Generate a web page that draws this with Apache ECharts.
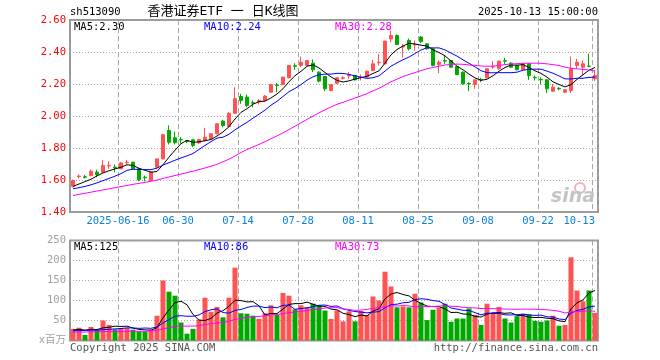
<!DOCTYPE html>
<html><head><meta charset="utf-8">
<script src="https://cdn.jsdelivr.net/npm/echarts/dist/echarts.min.js"></script>
<style>html,body{margin:0;padding:0;background:#fff}#c{width:660px;height:360px}</style>
</head><body><div id="c"></div>
<script>
const dates = ['2025-06-04','2025-06-05','2025-06-06','2025-06-09','2025-06-10','2025-06-11','2025-06-12','2025-06-13','2025-06-16','2025-06-17',
'2025-06-18','2025-06-19','2025-06-20','2025-06-23','2025-06-24','2025-06-25','2025-06-26','2025-06-27','2025-06-30','2025-07-01',
'2025-07-02','2025-07-03','2025-07-04','2025-07-07','2025-07-08','2025-07-09','2025-07-10','2025-07-11','2025-07-14','2025-07-15',
'2025-07-16','2025-07-17','2025-07-18','2025-07-21','2025-07-22','2025-07-23','2025-07-24','2025-07-25','2025-07-28','2025-07-29',
'2025-07-30','2025-07-31','2025-08-01','2025-08-04','2025-08-05','2025-08-06','2025-08-07','2025-08-08','2025-08-11','2025-08-12',
'2025-08-13','2025-08-14','2025-08-15','2025-08-18','2025-08-19','2025-08-20','2025-08-21','2025-08-22','2025-08-25','2025-08-26',
'2025-08-27','2025-08-28','2025-08-29','2025-09-01','2025-09-02','2025-09-03','2025-09-04','2025-09-05','2025-09-08','2025-09-09',
'2025-09-10','2025-09-11','2025-09-12','2025-09-15','2025-09-16','2025-09-17','2025-09-18','2025-09-19','2025-09-22','2025-09-23',
'2025-09-24','2025-09-25','2025-09-26','2025-09-29','2025-09-30','2025-10-09','2025-10-10','2025-10-13'];

const opens = [1.561,1.621,1.620,1.628,1.649,1.649,1.688,1.680,1.670,1.708,
1.711,1.670,1.617,1.597,1.680,1.732,1.909,1.864,1.854,1.845,
1.851,1.832,1.847,1.857,1.889,1.968,1.934,2.017,2.122,2.118,
2.083,2.089,2.097,2.149,2.194,2.197,2.239,2.314,2.316,2.316,
2.330,2.274,2.247,2.159,2.205,2.236,2.250,2.253,2.240,2.243,
2.284,2.333,2.326,2.482,2.503,2.431,2.472,2.444,2.493,2.451,
2.420,2.322,2.346,2.347,2.309,2.274,2.204,2.197,2.229,2.239,
2.306,2.295,2.346,2.330,2.316,2.289,2.326,2.242,2.229,2.226,
2.155,2.173,2.149,2.159,2.316,2.305,2.312,2.233];
const closes = [1.597,1.625,1.617,1.655,1.634,1.691,1.691,1.676,1.707,1.711,
1.670,1.601,1.614,1.649,1.732,1.883,1.836,1.833,1.851,1.840,
1.816,1.853,1.867,1.889,1.951,1.941,2.017,2.108,2.097,2.066,
2.080,2.097,2.124,2.197,2.191,2.243,2.316,2.311,2.336,2.347,
2.289,2.218,2.170,2.197,2.239,2.239,2.253,2.226,2.243,2.280,
2.326,2.336,2.468,2.503,2.447,2.434,2.420,2.447,2.465,2.420,
2.316,2.336,2.343,2.305,2.259,2.201,2.201,2.226,2.226,2.295,
2.309,2.343,2.343,2.305,2.289,2.326,2.253,2.239,2.226,2.170,
2.180,2.170,2.164,2.295,2.336,2.326,2.309,2.253];
const lows = [1.553,1.610,1.609,1.622,1.617,1.646,1.670,1.649,1.668,1.697,
1.668,1.591,1.592,1.591,1.672,1.729,1.822,1.822,1.826,1.830,
1.805,1.826,1.841,1.853,1.885,1.930,1.930,2.014,2.076,2.055,
2.055,2.072,2.091,2.145,2.149,2.193,2.235,2.289,2.305,2.313,
2.274,2.210,2.155,2.155,2.200,2.228,2.233,2.222,2.222,2.240,
2.280,2.316,2.322,2.461,2.443,2.367,2.409,2.409,2.455,2.415,
2.310,2.268,2.326,2.300,2.255,2.196,2.155,2.170,2.211,2.235,
2.295,2.290,2.326,2.300,2.285,2.285,2.226,2.222,2.197,2.143,
2.150,2.160,2.143,2.143,2.295,2.253,2.305,2.218];
const highs = [1.603,1.635,1.632,1.666,1.664,1.726,1.717,1.697,1.712,1.726,
1.714,1.676,1.628,1.652,1.735,1.889,1.941,1.903,1.868,1.850,
1.857,1.857,1.926,1.893,1.953,1.976,2.024,2.180,2.139,2.134,
2.097,2.105,2.132,2.200,2.205,2.245,2.320,2.330,2.372,2.350,
2.353,2.280,2.250,2.200,2.242,2.249,2.274,2.256,2.260,2.283,
2.350,2.389,2.470,2.534,2.510,2.451,2.484,2.472,2.500,2.455,
2.424,2.347,2.378,2.350,2.312,2.278,2.211,2.229,2.239,2.298,
2.343,2.347,2.364,2.336,2.320,2.330,2.330,2.253,2.242,2.230,
2.200,2.180,2.168,2.372,2.357,2.347,2.389,2.289];
const volumes = [29,32,14,34,28,50,39,28,31,31,
27,22,22,27,62,150,122,112,45,17,
29,52,107,72,84,58,107,182,68,67,
62,54,68,88,64,119,112,78,88,83,
92,88,75,54,75,48,73,48,74,64,
110,100,172,135,83,85,83,117,95,51,
77,82,92,47,55,55,80,64,39,92,
70,84,55,45,61,67,65,49,47,50,
62,37,39,208,125,98,125,69];

// moving-average values for the first days (their history lies before the window)
const ma5Head = [1.560,1.575,1.590,1.605];
const ma10Head = [1.545,1.552,1.560,1.570,1.582,1.596,1.610,1.624,1.640];
const ma30Head = [1.503,1.510,1.517,1.524,1.531,1.538,1.545,1.552,1.559,1.566,
1.573,1.579,1.585,1.592,1.600,1.610,1.619,1.628,1.637,1.646,
1.655,1.665,1.675,1.686,1.698,1.714,1.730,1.750,1.772];
const vma5Head = [26,28,26,28];
const vma10Head = [24,25,25,26,26,27,28,29,30];
const vma30Head = [21,21,21,22,22,22,23,23,23,23,23,23,23,24,25,29,32,35,36,36,36,37,40,42,44,45,48,53,55];

const tickLabels = ['2025-06-16','06-30','07-14','07-28','08-11','08-25','09-08','09-22','10-13'];
const priceLabels = ['MA5:2.30','MA10:2.24','MA30:2.28'];
const volLabels = ['MA5:125','MA10:86','MA30:73'];

function movingAvg(vals, n, head){
  return vals.map((v,i)=>{
    if(i < n-1) return head[i];
    let s=0; for(let k=i-n+1;k<=i;k++) s+=vals[k];
    return s/n;
  });
}
const ma5 = movingAvg(closes,5,ma5Head), ma10 = movingAvg(closes,10,ma10Head), ma30 = movingAvg(closes,30,ma30Head);
const vma5 = movingAvg(volumes,5,vma5Head), vma10 = movingAvg(volumes,10,vma10Head), vma30 = movingAvg(volumes,30,vma30Head);

const tickIdxArr = tickLabels.map(t=>dates.findIndex(d=>d.endsWith(t)));
const tickIdx = new Set(tickIdxArr);
const isTick = (i)=>tickIdx.has(i);
const UP='#ff5252', DOWN='#00a800', FRAME='#999999', VGRID='#a6a6a6', HGRID='#a8a8a8';
const MONO="'DejaVu Sans Mono','Noto Sans CJK SC',monospace";
const FS=10.5;
const xCat = dates.map((d,i)=> i===dates.length-1 ? {value:d, textStyle:{align:'right', padding:[0,0,0,0]}} : d);

const chart = echarts.init(document.getElementById('c'));
const hLine = {show:true, lineStyle:{color:HGRID, type:[1,2], width:1}};
const vLine = {show:true, interval:isTick, lineStyle:{color:VGRID, type:[5,3], width:1}};
const frame = {show:true, borderColor:FRAME, borderWidth:2};
const lineS = (name,data,color,x,y)=>({name, type:'line', data, xAxisIndex:x, yAxisIndex:y, symbol:'none', silent:true,
  lineStyle:{color, width:1}, itemStyle:{color}, z:5, animation:false});
const txt = (text,x,y,fill,align,font)=>({type:'text', x, y, z:30, silent:true,
  style:{text, fill, font: font || (FS+'px '+MONO), align: align||'left', verticalAlign:'middle'}});

chart.setOption({
  animation:false,
  grid:[Object.assign({left:70, top:20, width:528, height:192}, frame),
        Object.assign({left:70, top:240.5, width:528, height:100}, frame)],
  xAxis:[
    {type:'category', gridIndex:0, data:xCat, boundaryGap:true,
     axisLine:{show:false}, axisTick:{show:false}, splitLine:vLine,
     axisLabel:{interval:isTick, color:'#0a82dc', fontFamily:MONO, fontSize:FS, margin:4, padding:[0,6,0,0],
       formatter:(v,i)=> tickLabels[tickIdxArr.indexOf(i)] }},
    {type:'category', gridIndex:1, data:dates, boundaryGap:true,
     axisLine:{show:false}, axisTick:{show:false}, splitLine:vLine, axisLabel:{show:false}}
  ],
  yAxis:[
    {type:'value', gridIndex:0, min:1.4, max:2.6, interval:0.2, axisLine:{show:false}, axisTick:{show:false},
     splitLine:hLine, axisLabel:{color:'#ff0000', fontFamily:MONO, fontSize:FS, margin:4, formatter:(v)=>v.toFixed(2)}},
    {type:'value', gridIndex:1, min:0, max:250, interval:50, axisLine:{show:false}, axisTick:{show:false},
     splitLine:hLine, axisLabel:{color:'#a0a0a0', fontFamily:MONO, fontSize:FS, margin:4, formatter:(v)=> v===0 ? 'x百万' : String(v)}}
  ],
  series:[
    {type:'candlestick', xAxisIndex:0, yAxisIndex:0, barWidth:4,
     data: dates.map((d,i)=>[opens[i],closes[i],lows[i],highs[i]]),
     itemStyle:{color:UP, color0:DOWN, borderColor:UP, borderColor0:DOWN, borderWidth:1}, z:3},
    lineS('MA5',ma5,'#000000',0,0), lineS('MA10',ma10,'#0000ff',0,0), lineS('MA30',ma30,'#ff00ff',0,0),
    {type:'bar', xAxisIndex:1, yAxisIndex:1, barWidth:5, z:3,
     data: volumes.map((v,i)=>({value:v, itemStyle:{color: closes[i]>=opens[i]?UP:DOWN}}))},
    lineS('VMA5',vma5,'#000000',1,1), lineS('VMA10',vma10,'#0000ff',1,1), lineS('VMA30',vma30,'#ff00ff',1,1)
  ],
  graphic:{elements:[
    txt('sh513090',70,12,'#000'),
    txt('香港证券ETF 一 日K线图',223,12,'#000','center',"13px 'DejaVu Sans Mono','Noto Sans CJK SC'"),
    txt('2025-10-13 15:00:00',598,12,'#000','right'),
    txt(priceLabels[0],74,27,'#000'), txt(priceLabels[1],204,27,'#0000ff'), txt(priceLabels[2],335,27,'#ff00ff'),
    txt(volLabels[0],74,247,'#000'), txt(volLabels[1],204,247,'#0000ff'), txt(volLabels[2],335,247,'#ff00ff'),
    txt('Copyright 2025 SINA.COM',70,348,'#555'),
    txt('http://finance.sina.com.cn',598,348,'#555','right'),
    {type:'circle', silent:true, z:1, shape:{cx:580, cy:188, r:5}, style:{fill:'none', stroke:'#f2b4b4', lineWidth:2}},
    Object.assign(txt('sina',595,197,'#c4c4c4','right',"italic bold 19px 'DejaVu Sans'"),{z:1})
  ]}
});
</script></body></html>
